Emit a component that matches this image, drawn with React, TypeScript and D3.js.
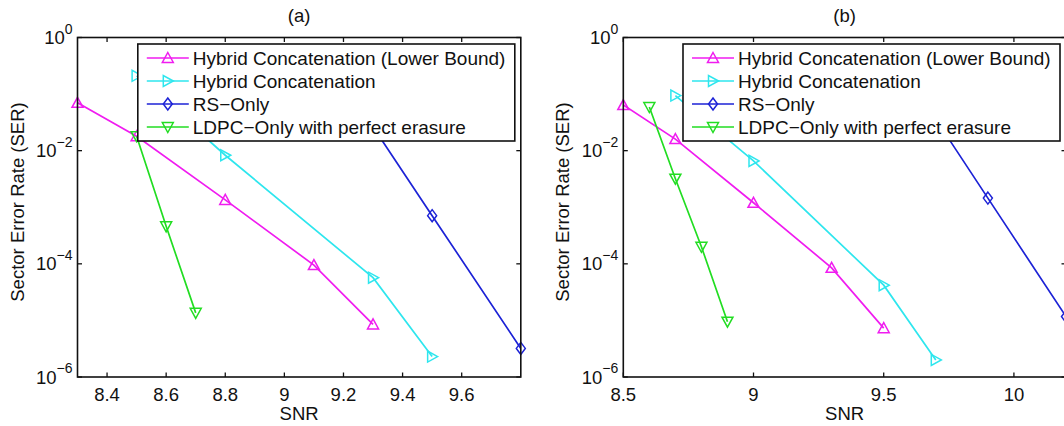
import React from "react";
import * as d3 from "d3";

// ---------- data ----------
const seriesNames = [
  "Hybrid Concatenation (Lower Bound)",
  "Hybrid Concatenation",
  "RS\u2212Only",
  "LDPC\u2212Only with perfect erasure",
];
const seriesColors = ["#f01cf0", "#2ee6ee", "#1c22d6", "#22dd22"];
const seriesMarkers = ["up", "right", "diamond", "down"];

// Panel (a)
const snrA_lower = [8.3, 8.5, 8.8, 9.1, 9.3];
const serA_lower = [0.07, 0.018, 1.35e-3, 9.5e-5, 8.5e-6];
const snrA_hybrid = [8.5, 8.8, 9.3, 9.5];
const serA_hybrid = [0.21, 8.3e-3, 5.7e-5, 2.3e-6];
const snrA_rs = [9.2, 9.5, 9.8];
const serA_rs = [0.16, 7.1e-4, 3.2e-6];
const snrA_ldpc = [8.5, 8.6, 8.7];
const serA_ldpc = [0.018, 4.6e-4, 1.36e-5];
const xTicksA = [8.4, 8.6, 8.8, 9, 9.2, 9.4, 9.6];
const xDomainA = [8.3, 9.8];

// Panel (b)
const snrB_lower = [8.5, 8.7, 9.0, 9.3, 9.5];
const serB_lower = [0.064, 0.016, 1.2e-3, 8.5e-5, 7.3e-6];
const snrB_hybrid = [8.7, 9.0, 9.5, 9.7];
const serB_hybrid = [0.094, 6.6e-3, 4.2e-5, 2.0e-6];
const snrB_rs = [9.6, 9.9, 10.2];
const serB_rs = [0.18, 1.45e-3, 1.17e-5];
const snrB_ldpc = [8.6, 8.7, 8.8, 8.9];
const serB_ldpc = [0.059, 3.2e-3, 2.0e-4, 9.5e-6];
const xTicksB = [8.5, 9, 9.5, 10];
const xDomainB = [8.5, 10.2];

const yTickExps = [0, -2, -4, -6];
const yDomain = [1e-6, 1];

const FONT = "'Liberation Sans', Arial, Helvetica, sans-serif";

function zip(xs: number[], ys: number[]) {
  return xs.map((x, i) => [x, ys[i]] as [number, number]);
}

function markerPath(kind: string) {
  switch (kind) {
    case "up":
      return "M0,-5.5L5.5,4.5L-5.5,4.5Z";
    case "down":
      return "M0,5.5L5.5,-4.5L-5.5,-4.5Z";
    case "right":
      return "M5.5,0L-4.5,-5.5L-4.5,5.5Z";
    default:
      return "M0,-6L4.5,0L0,6L-4.5,0Z";
  }
}

type PanelProps = {
  id: string;
  left: number;
  right: number;
  title: string;
  xDomain: number[];
  xTicks: number[];
  tickFmt: (v: number) => string;
  series: [number, number][][];
};

function Panel({ id, left, right, title, xDomain, xTicks, tickFmt, series }: PanelProps) {
  const top = 37.5;
  const bottom = 377;
  const x = d3.scaleLinear().domain(xDomain).range([left, right]);
  const y = d3.scaleLog().domain(yDomain).range([bottom, top]);
  const line = d3
    .line<[number, number]>()
    .x((d) => x(d[0]))
    .y((d) => y(d[1]));
  const tl = 4.5;
  const cx = (left + right) / 2;
  const legX = right - 6 - 377;
  const legY = top + 6.5;
  return (
    <g>
      <defs>
        <clipPath id={"clip" + id}>
          <rect x={left} y={top} width={right - left} height={bottom - top} />
        </clipPath>
      </defs>
      {/* title */}
      <text x={cx} y={22} textAnchor="middle" fontSize={18.5} fontFamily={FONT} fill="#111">
        {title}
      </text>
      {/* series */}
      <g clipPath={`url(#clip${id})`}>
        {series.map((s, i) => (
          <path key={i} d={line(s) || ""} fill="none" stroke={seriesColors[i]} strokeWidth={1.7} />
        ))}
      </g>
      {series.map((s, i) =>
        s.map((d, j) => (
          <path
            key={i + "-" + j}
            d={markerPath(seriesMarkers[i])}
            transform={`translate(${x(d[0])},${y(d[1])})`}
            fill="none"
            stroke={seriesColors[i]}
            strokeWidth={1.5}
          />
        ))
      )}
      {/* axes box */}
      <rect x={left} y={top} width={right - left} height={bottom - top} fill="none" stroke="#111" strokeWidth={1.6} />
      {xTicks.map((t) => (
        <g key={t}>
          <line x1={x(t)} x2={x(t)} y1={bottom} y2={bottom - tl} stroke="#111" strokeWidth={1.3} />
          <line x1={x(t)} x2={x(t)} y1={top} y2={top + tl} stroke="#111" strokeWidth={1.3} />
          <text x={x(t)} y={400.5} textAnchor="middle" fontSize={18.5} fontFamily={FONT} fill="#111">
            {tickFmt(t)}
          </text>
        </g>
      ))}
      {yTickExps.map((e) => {
        const yy = y(Math.pow(10, e));
        return (
          <g key={e}>
            <line x1={left} x2={left + tl} y1={yy} y2={yy} stroke="#111" strokeWidth={1.3} />
            <line x1={right} x2={right - tl} y1={yy} y2={yy} stroke="#111" strokeWidth={1.3} />
            <text x={left - 5} y={yy + 6.5} textAnchor="end" fontSize={18.5} fontFamily={FONT} fill="#111">
              10
              <tspan fontSize={14} dy={-10.5}>
                {e === 0 ? "0" : "\u2212" + Math.abs(e)}
              </tspan>
            </text>
          </g>
        );
      })}
      {/* axis labels */}
      <text x={cx} y={419.5} textAnchor="middle" fontSize={18.5} fontFamily={FONT} fill="#111">
        SNR
      </text>
      <text
        transform={`translate(${left - 54},202) rotate(-90)`}
        textAnchor="middle"
        fontSize={18.5}
        fontFamily={FONT}
        fill="#111"
      >
        Sector Error Rate (SER)
      </text>
      {/* legend */}
      <rect x={legX} y={legY} width={377} height={97} fill="#fff" stroke="#111" strokeWidth={1.6} />
      {seriesNames.map((name, i) => {
        const ry = legY + 14 + i * 23;
        return (
          <g key={name}>
            <line x1={legX + 9} x2={legX + 51} y1={ry} y2={ry} stroke={seriesColors[i]} strokeWidth={1.7} />
            <path
              d={markerPath(seriesMarkers[i])}
              transform={`translate(${legX + 30},${ry})`}
              fill="none"
              stroke={seriesColors[i]}
              strokeWidth={1.5}
            />
            <text x={legX + 55} y={ry + 6.8} fontSize={19} fontFamily={FONT} fill="#111">
              {name}
            </text>
          </g>
        );
      })}
    </g>
  );
}

export default function App() {
  const seriesA = [
    zip(snrA_lower, serA_lower),
    zip(snrA_hybrid, serA_hybrid),
    zip(snrA_rs, serA_rs),
    zip(snrA_ldpc, serA_ldpc),
  ];
  const seriesB = [
    zip(snrB_lower, serB_lower),
    zip(snrB_hybrid, serB_hybrid),
    zip(snrB_rs, serB_rs),
    zip(snrB_ldpc, serB_ldpc),
  ];
  return (
    <svg
      width={1064}
      height={426}
      style={{ position: "absolute", left: 0, top: 0, background: "#fff" }}
    >
      <rect x={0} y={0} width={1064} height={426} fill="#fff" />
      <Panel
        id="a"
        left={77.5}
        right={520.8}
        title="(a)"
        xDomain={xDomainA}
        xTicks={xTicksA}
        tickFmt={(v) => d3.format(".1f")(v).replace(/\.0$/, "")}
        series={seriesA}
      />
      <Panel
        id="b"
        left={623.3}
        right={1066}
        title="(b)"
        xDomain={xDomainB}
        xTicks={xTicksB}
        tickFmt={(v) => d3.format(".1f")(v).replace(/\.0$/, "")}
        series={seriesB}
      />
    </svg>
  );
}
